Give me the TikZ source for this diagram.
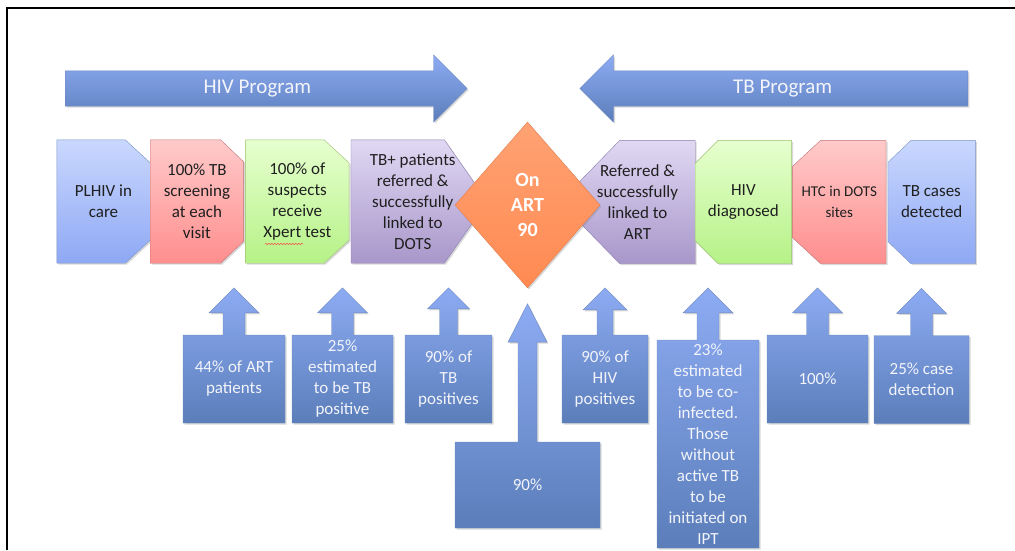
\documentclass[tikz,border=0pt]{standalone}
\usepackage{fontspec}
\setmainfont{Carlito}
\usepackage{tikz}
\usetikzlibrary{positioning,backgrounds,shapes.geometric,shapes.arrows,shadows,decorations.pathmorphing}

\definecolor{bluetop}{HTML}{CAD8FE}
\definecolor{bluebot}{HTML}{8EA8F4}
\definecolor{blueline}{HTML}{7C95C6}
\definecolor{redtop}{HTML}{FFCACA}
\definecolor{redbot}{HTML}{FF8E8E}
\definecolor{redline}{HTML}{C27474}
\definecolor{greentop}{HTML}{E6FFCF}
\definecolor{greenbot}{HTML}{B6F287}
\definecolor{greenline}{HTML}{9CBF72}
\definecolor{purptop}{HTML}{E0D8F3}
\definecolor{purpbot}{HTML}{A897CA}
\definecolor{purpline}{HTML}{8D7DB0}
\definecolor{orangetop}{HTML}{FFA273}
\definecolor{orangebot}{HTML}{FF8A52}
\definecolor{orangeline}{HTML}{E27F50}
\definecolor{progtop}{HTML}{8DABF3}
\definecolor{progbot}{HTML}{5B7EBA}
\definecolor{progline}{HTML}{6C89BF}
\definecolor{softwhite}{HTML}{F2F4FA}

% chevron outlines round a named node: name, cut in x, cut in y, colour
\newcommand\chevright[4]{%
  \draw[draw=#4line,top color=#4top,bottom color=#4bot,softshadow]
    (#1.north west) -- ([xshift=-#2pt]#1.north east) -- ([yshift=-#3pt]#1.north east)
    -- ([yshift=#3pt]#1.south east) -- ([xshift=-#2pt]#1.south east) -- (#1.south west) -- cycle;}
\newcommand\chevleft[4]{%
  \draw[draw=#4line,top color=#4top,bottom color=#4bot,softshadow]
    (#1.north east) -- ([xshift=#2pt]#1.north west) -- ([yshift=-#3pt]#1.north west)
    -- ([yshift=#3pt]#1.south west) -- ([xshift=#2pt]#1.south west) -- (#1.south east) -- cycle;}

\begin{document}
\begin{tikzpicture}[x=1pt,y=-1pt,
    softshadow/.style={drop shadow={shadow xshift=1.5pt,shadow yshift=-1.5pt,opacity=.3}},
    chev/.style={rectangle,minimum height=123pt,inner sep=0pt,align=center,
      text=black!88,font=\fontsize{17}{21}\selectfont},
    prog/.style={single arrow,draw=progline,top color=progtop,bottom color=progbot,
      minimum height=402pt,single arrow head extend=16pt,single arrow tip angle=90,
      text height=14pt,text depth=5pt,inner ysep=8pt,text=softwhite,
      font=\fontsize{21}{25}\selectfont,softshadow},
    callout/.style={arrow box,draw=progline,top color=progtop,bottom color=progbot,
      minimum height=88pt,inner sep=1pt,align=center,text=softwhite,
      font=\fontsize{17}{21}\selectfont,arrow box shaft width=22pt,
      arrow box head extend=14pt,arrow box tip angle=90,
      arrow box arrows={north:#1pt from border},softshadow}]
  \useasboundingbox (0,0) rectangle (1015,550);
  \draw[line width=2pt] (7,550) -- (7,8) -- (1015,8);

  % program arrows
  \node[prog,anchor=tail] (hiv) at (65,88.5) {HIV Program};
  \node[prog,anchor=tail,shape border rotate=180,minimum height=388pt] (tb) at (968,88.5) {TB Program};

  % HIV side
  \node[chev,minimum width=93pt] (plhiv) at (103.5,201.5) {PLHIV in\\care};
  \node[chev,minimum width=93pt,right=0pt of plhiv] (screen) {100\% TB\\screening\\at each\\visit};
  \node[chev,minimum width=103pt,right=2pt of screen] (xpert) {100\% of\\suspects\\receive\\Xpert test};
  \node[chev,minimum width=123pt,right=2pt of xpert] (dots) {TB+ patients\\referred \&\\successfully\\linked to\\DOTS};
  \draw[red!80,decorate,decoration={snake,amplitude=.7pt,segment length=3pt}] (265,244) -- (303,244);

  \node[diamond,draw=orangeline,top color=orangetop,bottom color=orangebot,
    minimum width=145pt,minimum height=166pt,inner sep=0pt,align=center,text=white,
    font=\bfseries\fontsize{20}{25}\selectfont,softshadow] (art) at (527.5,205) {On\\ART\\90};

  % TB side
  \node[chev,minimum width=115pt] (linked) at (637.5,202) {Referred \&\\successfully\\linked to\\ART};
  \node[chev,minimum width=96pt,right=0pt of linked] (hivdx) {HIV\\diagnosed};
  \node[chev,minimum width=93pt,right=1pt of hivdx,font=\fontsize{15}{21}\selectfont] (htc) {HTC in DOTS\\sites};
  \node[chev,minimum width=87pt,right=2pt of htc] (tbcases) {TB cases\\detected};

  \begin{pgfonlayer}{background}
    \chevright{plhiv}{25}{23}{blue}
    \chevright{screen}{23}{22}{red}
    \chevright{xpert}{25}{23}{green}
    \chevright{dots}{30}{43}{purp}
    \chevleft{linked}{40}{41}{purp}
    \chevleft{hivdx}{23}{23}{green}
    \chevleft{htc}{28}{26}{red}
    \chevleft{tbcases}{23}{22}{blue}
  \end{pgfonlayer}

  % targets
  \node[callout=47,minimum width=102pt] (p44) at (234,379) {44\% of ART\\patients};
  \node[callout=47,minimum width=101pt] (p25) at (342.5,379) {25\%\\estimated\\to be TB\\positive};
  \node[callout=47,minimum width=87pt,arrow box shaft width=18pt,arrow box head extend=12pt] (p90tb) at (448.5,379) {90\% of\\TB\\positives};
  \node[callout=138,minimum width=145pt,minimum height=86pt,arrow box shaft width=19pt,
    arrow box head extend=10pt,arrow box tip angle=54] (p90) at (527.5,485) {90\%};
  \node[callout=47,minimum width=86pt,arrow box shaft width=16pt] (p90hiv) at (605,379) {90\% of\\HIV\\positives};
  \node[callout=52,minimum width=102pt,minimum height=208pt] (p23) at (708,444) {23\%\\estimated\\to be co-\\infected.\\Those\\without\\active TB\\to be\\initiated on\\IPT};
  \node[callout=47,minimum width=101pt] (p100) at (817.5,379) {100\%};
  \node[callout=47,minimum width=95pt] (p25case) at (921.5,379.5) {25\% case\\detection};
\end{tikzpicture}
\end{document}
